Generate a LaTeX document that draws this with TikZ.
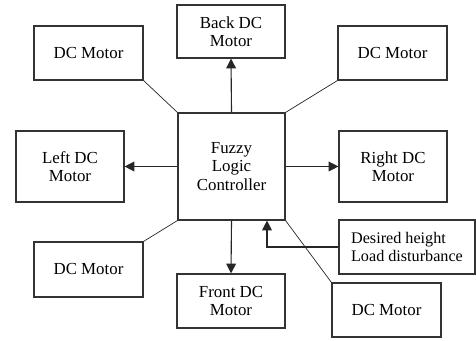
\documentclass[tikz,border=0pt]{standalone}
\usepackage{fontspec}
\setmainfont{Liberation Serif}
\usetikzlibrary{arrows.meta}
\begin{document}
\begin{tikzpicture}[
    box/.style={draw=black!80, line width=0.8pt, minimum width=2.7cm, minimum height=1.35cm,
        align=center, inner sep=1pt, font=\fontsize{12}{13}\selectfont},
    link/.style={draw=black!85, line width=0.5pt},
    arr/.style={draw=black!85, line width=0.8pt, -{Triangle[length=7pt, width=7pt]}}
]
                \useasboundingbox (0,0) rectangle (11.9,8.525);

                % Controller
                \node[box, minimum width=2.675cm, minimum height=2.675cm] (ctrl) at (5.7875,4.3625) {Fuzzy\\Logic\\Controller};

                % Motors
                \node[box, minimum height=1.325cm] (back) at (5.775,7.7375) {Back DC\\Motor};
                \node[box] (front) at (5.775,1.0) {Front DC\\Motor};
                \node[box, minimum height=1.775cm] (left) at (1.75,4.3625) {Left DC\\Motor};
                \node[box, minimum height=1.775cm] (right) at (9.825,4.3625) {Right DC\\Motor};
                \node[box, minimum width=2.725cm] (tl) at (2.2125,7.2) {DC Motor};
                \node[box, minimum width=2.725cm] (tr) at (9.8125,7.2) {DC Motor};
                \node[box, minimum width=2.725cm, minimum height=1.375cm] (bl) at (2.2125,1.7875) {DC Motor};
                \node[box, minimum width=2.725cm] (br) at (9.6625,0.775) {DC Motor};

                % Inputs
                \node[box, minimum width=3.4cm, align=left, font=\fontsize{11.5}{13}\selectfont] (input) at (10.175,2.35) {Desired height\\Load disturbance};

                % Arrows to motors
                \draw[arr] (ctrl.north) -- (back.south);
                \draw[arr] (ctrl.south) -- (front.north);
                \draw[arr] (ctrl.west) -- (left.east);
                \draw[arr] (ctrl.east) -- (right.west);

                % Corner links
                \draw[link] (tl.south east) -- (ctrl.north west);
                \draw[link] (tr.south west) -- (ctrl.north east);
                \draw[link] (bl.north east) -- (ctrl.south west);
                \draw[link] (br.north west) -- (ctrl.south east);

                % Input arrow
                \draw[arr] (input.west) -| ([xshift=0.8875cm]ctrl.south);
\end{tikzpicture}
\end{document}
